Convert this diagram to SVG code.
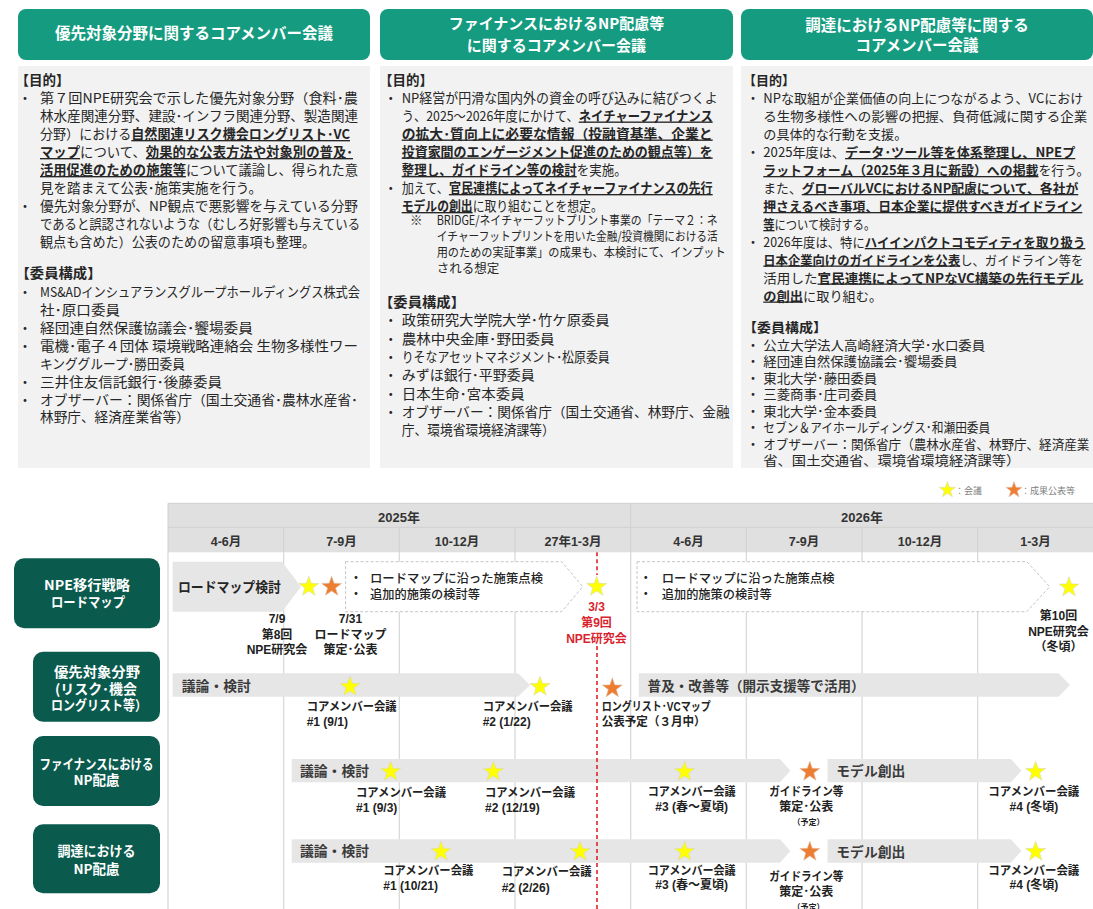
<svg xmlns="http://www.w3.org/2000/svg" width="1093" height="909" viewBox="0 0 1093 909">
<defs>
<style>
text{font-family:"Noto Sans CJK JP","Noto Sans",sans-serif;}
.b{font-size:13.5px;fill:#262626;}
.c3 .b{font-size:13px;}
.bu{font-weight:700;text-decoration:underline;}
.h{font-weight:700;}
.sm{font-size:12.5px;fill:#262626;}
.ht{fill:#fff;font-weight:700;font-size:15.5px;text-anchor:middle;}
.rl{fill:#fff;font-weight:700;font-size:13.5px;text-anchor:middle;}
.hd{fill:#e0e0e0;}
.qt{font-family:"Liberation Sans","Noto Sans CJK JP",sans-serif;font-weight:700;font-size:12.5px;fill:#333;text-anchor:middle;}
.gl{stroke:#d6d6d6;stroke-width:1.2;}
.bar{fill:#e6e6e6;}
.dbx{fill:#fff;stroke:#c4c4c4;stroke-width:1;stroke-dasharray:3 2;}
.bt{font-weight:700;font-size:13.5px;fill:#3a3a3a;}
.rt{font-weight:500;font-size:12.5px;fill:#222;}
.lb{font-family:"Liberation Sans","Noto Sans CJK JP",sans-serif;font-weight:700;font-size:12px;fill:#222;}
.lc{font-family:"Liberation Sans","Noto Sans CJK JP",sans-serif;font-weight:700;font-size:12px;fill:#222;text-anchor:middle;}
.red{fill:#d9232e;}
.ys{fill:#ffff00;stroke:#d8d8b8;stroke-width:0.6;}
.os{fill:#ed7d31;stroke:#e0c0a8;stroke-width:0.6;}
.lg{font-size:9px;fill:#7f7f7f;}
</style>
<path id="st" d="M0,-10.5 L2.47,-3.4 L9.99,-3.24 L3.99,1.3 L6.17,8.49 L0,4.2 L-6.17,8.49 L-3.99,1.3 L-9.99,-3.24 L-2.47,-3.4 Z"/>
<path id="sts" d="M0,-8.4 L1.98,-2.72 L7.99,-2.59 L3.19,1.04 L4.94,6.79 L0,3.36 L-4.94,6.79 L-3.19,1.04 L-7.99,-2.59 L-1.98,-2.72 Z"/>
</defs>
<rect width="1093" height="909" fill="#ffffff"/>

<!-- Panel 1 -->
<g id="panel-priority">
<rect x="18" y="9" width="352" height="51" rx="8" fill="#149b80"/>
<text class="ht" x="194" y="39">優先対象分野に関するコアメンバー会議</text>
<rect x="18" y="66" width="352" height="402" fill="#f2f2f2"/>
<text class="b h" x="15.5" y="85">【目的】</text>
<text class="b" x="25" y="103" text-anchor="middle">・</text>
<text class="b" x="40" y="103" textLength="318" lengthAdjust="spacingAndGlyphs">第７回NPE研究会で示した優先対象分野（食料･農</text>
<text class="b" x="40" y="121" textLength="318" lengthAdjust="spacingAndGlyphs">林水産関連分野、建設･インフラ関連分野、製造関連</text>
<text class="b" x="40" y="139" textLength="310" lengthAdjust="spacingAndGlyphs">分野）における<tspan class="bu">自然関連リスク機会ロングリスト･VC</tspan></text>
<text class="b" x="40" y="157" textLength="313" lengthAdjust="spacingAndGlyphs"><tspan class="bu">マップ</tspan>について、<tspan class="bu">効果的な公表方法や対象別の普及･</tspan></text>
<text class="b" x="40" y="175" textLength="318" lengthAdjust="spacingAndGlyphs"><tspan class="bu">活用促進のための施策等</tspan>について議論し、得られた意</text>
<text class="b" x="40" y="193" textLength="222" lengthAdjust="spacingAndGlyphs">見を踏まえて公表･施策実施を行う。</text>
<text class="b" x="25" y="211" text-anchor="middle">・</text>
<text class="b" x="40" y="211" textLength="318" lengthAdjust="spacingAndGlyphs">優先対象分野が、NP観点で悪影響を与えている分野</text>
<text class="b" x="40" y="229" textLength="320" lengthAdjust="spacingAndGlyphs">であると誤認されないような（むしろ好影響も与えている</text>
<text class="b" x="40" y="247" textLength="275" lengthAdjust="spacingAndGlyphs">観点も含めた）公表のための留意事項も整理。</text>
<text class="b h" x="15.5" y="278" textLength="86" lengthAdjust="spacingAndGlyphs">【委員構成】</text>
<text class="b" x="25" y="297" text-anchor="middle">・</text>
<text class="b" x="40" y="297" textLength="320" lengthAdjust="spacingAndGlyphs">MS&amp;ADインシュアランスグループホールディングス株式会</text>
<text class="b" x="40" y="315" textLength="80" lengthAdjust="spacingAndGlyphs">社･原口委員</text>
<text class="b" x="25" y="333" text-anchor="middle">・</text>
<text class="b" x="40" y="333" textLength="213" lengthAdjust="spacingAndGlyphs">経団連自然保護協議会･饗場委員</text>
<text class="b" x="25" y="351" text-anchor="middle">・</text>
<text class="b" x="40" y="351" textLength="318" lengthAdjust="spacingAndGlyphs">電機･電子４団体 環境戦略連絡会 生物多様性ワー</text>
<text class="b" x="40" y="368.5" textLength="145" lengthAdjust="spacingAndGlyphs">キンググループ･勝田委員</text>
<text class="b" x="25" y="386.5" text-anchor="middle">・</text>
<text class="b" x="40" y="386.5" textLength="182" lengthAdjust="spacingAndGlyphs">三井住友信託銀行･後藤委員</text>
<text class="b" x="25" y="404.5" text-anchor="middle">・</text>
<text class="b" x="40" y="404.5" textLength="318" lengthAdjust="spacingAndGlyphs">オブザーバー：関係省庁（国土交通省･農林水産省･</text>
<text class="b" x="40" y="422" textLength="150" lengthAdjust="spacingAndGlyphs">林野庁、経済産業省等）</text>
</g>

<!-- Panel 2 -->
<g id="panel-finance">
<rect x="380" y="9" width="353" height="51" rx="8" fill="#149b80"/>
<text class="ht" x="556.5" y="29" style="font-size:15px">ファイナンスにおけるNP配慮等</text>
<text class="ht" x="556.5" y="50.5" style="font-size:15px">に関するコアメンバー会議</text>
<rect x="380" y="66" width="353" height="402" fill="#f2f2f2"/>
<text class="b h" x="379" y="85">【目的】</text>
<text class="b" x="390.7" y="103" text-anchor="middle">・</text>
<text class="b" x="401.7" y="103" textLength="316" lengthAdjust="spacingAndGlyphs">NP経営が円滑な国内外の資金の呼び込みに結びつくよ</text>
<text class="b" x="401.7" y="120.5" textLength="311" lengthAdjust="spacingAndGlyphs">う、2025～2026年度にかけて、<tspan class="bu">ネイチャーファイナンス</tspan></text>
<text class="b" x="401.7" y="138.5" textLength="311" lengthAdjust="spacingAndGlyphs"><tspan class="bu">の拡大･質向上に必要な情報（投融資基準、企業と</tspan></text>
<text class="b" x="401.7" y="156.5" textLength="311" lengthAdjust="spacingAndGlyphs"><tspan class="bu">投資家間のエンゲージメント促進のための観点等）を</tspan></text>
<text class="b" x="401.7" y="175" textLength="225" lengthAdjust="spacingAndGlyphs"><tspan class="bu">整理し、ガイドライン等の検討</tspan>を実施。</text>
<text class="b" x="390.7" y="193" text-anchor="middle">・</text>
<text class="b" x="401.7" y="193" textLength="311" lengthAdjust="spacingAndGlyphs">加えて、<tspan class="bu">官民連携によってネイチャーファイナンスの先行</tspan></text>
<text class="b" x="401.7" y="211" textLength="201" lengthAdjust="spacingAndGlyphs"><tspan class="bu">モデルの創出</tspan>に取り組むことを想定。</text>
<text class="sm" x="410" y="225">※</text>
<text class="sm" x="436.7" y="225" textLength="281" lengthAdjust="spacingAndGlyphs">BRIDGE/ネイチャーフットプリント事業の「テーマ２：ネ</text>
<text class="sm" x="436.7" y="241" textLength="281" lengthAdjust="spacingAndGlyphs">イチャーフットプリントを用いた金融/投資機関における活</text>
<text class="sm" x="436.7" y="257" textLength="289" lengthAdjust="spacingAndGlyphs">用のための実証事業」の成果も、本検討にて、インプット</text>
<text class="sm" x="436.7" y="273">される想定</text>
<text class="b h" x="379" y="307" textLength="86" lengthAdjust="spacingAndGlyphs">【委員構成】</text>
<text class="b" x="390.7" y="325" text-anchor="middle">・</text>
<text class="b" x="401.7" y="325" textLength="208" lengthAdjust="spacingAndGlyphs">政策研究大学院大学･竹ケ原委員</text>
<text class="b" x="390.7" y="343.5" text-anchor="middle">・</text>
<text class="b" x="401.7" y="343.5" textLength="153" lengthAdjust="spacingAndGlyphs">農林中央金庫･野田委員</text>
<text class="b" x="390.7" y="362" text-anchor="middle">・</text>
<text class="b" x="401.7" y="362" textLength="208" lengthAdjust="spacingAndGlyphs">りそなアセットマネジメント･松原委員</text>
<text class="b" x="390.7" y="380" text-anchor="middle">・</text>
<text class="b" x="401.7" y="380" textLength="133" lengthAdjust="spacingAndGlyphs">みずほ銀行･平野委員</text>
<text class="b" x="390.7" y="398.5" text-anchor="middle">・</text>
<text class="b" x="401.7" y="398.5" textLength="123" lengthAdjust="spacingAndGlyphs">日本生命･宮本委員</text>
<text class="b" x="390.7" y="417" text-anchor="middle">・</text>
<text class="b" x="401.7" y="417" textLength="328" lengthAdjust="spacingAndGlyphs">オブザーバー：関係省庁（国土交通省、林野庁、金融</text>
<text class="b" x="401.7" y="434.5" textLength="153" lengthAdjust="spacingAndGlyphs">庁、環境省環境経済課等）</text>
</g>

<!-- Panel 3 -->
<g id="panel-procurement" class="c3">
<rect x="741" y="9" width="352" height="51" rx="8" fill="#149b80"/>
<text class="ht" x="917" y="30.5">調達におけるNP配慮等に関する</text>
<text class="ht" x="917" y="50.5">コアメンバー会議</text>
<rect x="741" y="66" width="352" height="402" fill="#f2f2f2"/>
<text class="b h" x="743" y="85">【目的】</text>
<text class="b" x="753" y="103" text-anchor="middle">・</text>
<text class="b" x="763.3" y="103" textLength="320" lengthAdjust="spacingAndGlyphs">NPな取組が企業価値の向上につながるよう、VCにおけ</text>
<text class="b" x="763.3" y="121" textLength="324" lengthAdjust="spacingAndGlyphs">る生物多様性への影響の把握、負荷低減に関する企業</text>
<text class="b" x="763.3" y="139" textLength="144" lengthAdjust="spacingAndGlyphs">の具体的な行動を支援。</text>
<text class="b" x="753" y="157" text-anchor="middle">・</text>
<text class="b" x="763.3" y="157" textLength="312" lengthAdjust="spacingAndGlyphs">2025年度は、<tspan class="bu">データ･ツール等を体系整理し、NPEプ</tspan></text>
<text class="b" x="763.3" y="175" textLength="326" lengthAdjust="spacingAndGlyphs"><tspan class="bu">ラットフォーム（2025年３月に新設）への掲載</tspan>を行う。</text>
<text class="b" x="763.3" y="193" textLength="315" lengthAdjust="spacingAndGlyphs">また、<tspan class="bu">グローバルVCにおけるNP配慮について、各社が</tspan></text>
<text class="b" x="763.3" y="211" textLength="319" lengthAdjust="spacingAndGlyphs"><tspan class="bu">押さえるべき事項、日本企業に提供すべきガイドライン</tspan></text>
<text class="b" x="763.3" y="229" textLength="112" lengthAdjust="spacingAndGlyphs"><tspan class="bu">等</tspan>について検討する。</text>
<text class="b" x="753" y="247" text-anchor="middle">・</text>
<text class="b" x="763.3" y="247" textLength="322" lengthAdjust="spacingAndGlyphs">2026年度は、特に<tspan class="bu">ハイインパクトコモディティを取り扱う</tspan></text>
<text class="b" x="763.3" y="264.5" textLength="320" lengthAdjust="spacingAndGlyphs"><tspan class="bu">日本企業向けのガイドラインを公表</tspan>し、ガイドライン等を</text>
<text class="b" x="763.3" y="282.5" textLength="320" lengthAdjust="spacingAndGlyphs">活用した<tspan class="bu">官民連携によってNPなVC構築の先行モデル</tspan></text>
<text class="b" x="763.3" y="300.5" textLength="119" lengthAdjust="spacingAndGlyphs"><tspan class="bu">の創出</tspan>に取り組む。</text>
<text class="b h" x="743" y="332" textLength="84" lengthAdjust="spacingAndGlyphs">【委員構成】</text>
<text class="b" x="753" y="349.5" text-anchor="middle">・</text>
<text class="b" x="763.3" y="349.5" textLength="222" lengthAdjust="spacingAndGlyphs">公立大学法人高崎経済大学･水口委員</text>
<text class="b" x="753" y="366" text-anchor="middle">・</text>
<text class="b" x="763.3" y="366" textLength="194" lengthAdjust="spacingAndGlyphs">経団連自然保護協議会･饗場委員</text>
<text class="b" x="753" y="382.5" text-anchor="middle">・</text>
<text class="b" x="763.3" y="382.5" textLength="114" lengthAdjust="spacingAndGlyphs">東北大学･藤田委員</text>
<text class="b" x="753" y="399" text-anchor="middle">・</text>
<text class="b" x="763.3" y="399" textLength="114" lengthAdjust="spacingAndGlyphs">三菱商事･庄司委員</text>
<text class="b" x="753" y="415.5" text-anchor="middle">・</text>
<text class="b" x="763.3" y="415.5" textLength="114" lengthAdjust="spacingAndGlyphs">東北大学･金本委員</text>
<text class="b" x="753" y="432" text-anchor="middle">・</text>
<text class="b" x="763.3" y="432" textLength="227" lengthAdjust="spacingAndGlyphs">セブン＆アイホールディングス･和瀬田委員</text>
<text class="b" x="753" y="448.5" text-anchor="middle">・</text>
<text class="b" x="763.3" y="448.5" textLength="326" lengthAdjust="spacingAndGlyphs">オブザーバー：関係省庁（農林水産省、林野庁、経済産業</text>
<text class="b" x="763.3" y="465" textLength="257" lengthAdjust="spacingAndGlyphs">省、国土交通省、環境省環境経済課等）</text>
</g>

<!-- Legend -->
<g id="legend">
<use href="#sts" x="947.4" y="490" class="ys"/>
<text class="lg" x="955" y="493.5">：会議</text>
<use href="#sts" x="1014" y="490" class="os"/>
<text class="lg" x="1021" y="493.5">：成果公表等</text>
</g>

<!-- Timeline header -->
<g id="timeline-header">
<rect class="hd" x="168" y="503.3" width="925" height="49"/>
<line x1="168" y1="503.3" x2="1093" y2="503.3" stroke="#d0d0d0"/>
<line x1="168" y1="527.3" x2="1093" y2="527.3" stroke="#d0d0d0"/>
<line x1="168" y1="503.3" x2="168" y2="552.3" stroke="#d0d0d0"/>
<line x1="630.7" y1="503.3" x2="630.7" y2="552.3" stroke="#d0d0d0"/>
<line x1="283.7" y1="527.3" x2="283.7" y2="552.3" stroke="#d0d0d0"/>
<line x1="399.3" y1="527.3" x2="399.3" y2="552.3" stroke="#d0d0d0"/>
<line x1="515" y1="527.3" x2="515" y2="552.3" stroke="#d0d0d0"/>
<line x1="746.3" y1="527.3" x2="746.3" y2="552.3" stroke="#d0d0d0"/>
<line x1="862" y1="527.3" x2="862" y2="552.3" stroke="#d0d0d0"/>
<line x1="977.7" y1="527.3" x2="977.7" y2="552.3" stroke="#d0d0d0"/>
<text class="qt" x="399" y="521.5" style="font-size:13px">2025年</text>
<text class="qt" x="862" y="521.5" style="font-size:13px">2026年</text>
<text class="qt" x="226" y="545.5">4-6月</text>
<text class="qt" x="341.5" y="545.5">7-9月</text>
<text class="qt" x="457" y="545.5">10-12月</text>
<text class="qt" x="573" y="545.5">27年1-3月</text>
<text class="qt" x="688.5" y="545.5">4-6月</text>
<text class="qt" x="804" y="545.5">7-9月</text>
<text class="qt" x="920" y="545.5">10-12月</text>
<text class="qt" x="1035.5" y="545.5">1-3月</text>
</g>

<!-- Grid -->
<g id="grid">
<line class="gl" x1="168" y1="552.3" x2="168" y2="909"/>
<line class="gl" x1="283.7" y1="552.3" x2="283.7" y2="909"/>
<line class="gl" x1="399.3" y1="552.3" x2="399.3" y2="909"/>
<line class="gl" x1="515" y1="552.3" x2="515" y2="909"/>
<line class="gl" x1="630.7" y1="552.3" x2="630.7" y2="909"/>
<line class="gl" x1="746.3" y1="552.3" x2="746.3" y2="909"/>
<line class="gl" x1="862" y1="552.3" x2="862" y2="909"/>
<line class="gl" x1="977.7" y1="552.3" x2="977.7" y2="909"/>
</g>

<!-- Row labels -->
<g id="row-roadmap">
<rect x="14" y="558.3" width="146" height="70" rx="10" fill="#0a5a4d"/>
<text class="rl" x="87" y="590" textLength="86" lengthAdjust="spacingAndGlyphs">NPE移行戦略</text>
<text class="rl" x="88" y="606.5" textLength="74" lengthAdjust="spacingAndGlyphs">ロードマップ</text>
</g>
<g id="row-priority">
<rect x="33" y="651.7" width="127" height="70" rx="10" fill="#0a5a4d"/>
<text class="rl" x="97" y="677" textLength="86" lengthAdjust="spacingAndGlyphs">優先対象分野</text>
<text class="rl" x="96" y="693.5" textLength="82" lengthAdjust="spacingAndGlyphs">(リスク･機会</text>
<text class="rl" x="99" y="710" textLength="96" lengthAdjust="spacingAndGlyphs">ロングリスト等）</text>
</g>
<g id="row-finance">
<rect x="33" y="736" width="127" height="70" rx="10" fill="#0a5a4d"/>
<text class="rl" x="96.5" y="768.5" textLength="114" lengthAdjust="spacingAndGlyphs">ファイナンスにおける</text>
<text class="rl" x="96.5" y="785">NP配慮</text>
</g>
<g id="row-procurement">
<rect x="33" y="824.3" width="127" height="69" rx="10" fill="#0a5a4d"/>
<text class="rl" x="96.5" y="856" textLength="78" lengthAdjust="spacingAndGlyphs">調達における</text>
<text class="rl" x="96.5" y="873.5">NP配慮</text>
</g>

<!-- Bars (connectors) -->
<g id="connectors">
<polygon class="bar" points="172.6,561.7 282,561.7 301,586.7 282,611.7 172.6,611.7"/>
<polygon class="dbx" points="345.6,561.7 561.7,561.7 582.7,586.7 561.7,611.7 345.6,611.7"/>
<polygon class="dbx" points="637,561.7 1026.8,561.7 1049.7,586.7 1026.8,611.7 637,611.7"/>
<polygon class="bar" points="172.6,673.3 518,673.3 530,685 518,696.7 172.6,696.7"/>
<polygon class="bar" points="638.8,673.3 1058.5,673.3 1070,685 1058.5,696.7 638.8,696.7"/>
<polygon class="bar" points="291.7,759 779.9,759 790.4,770.7 779.9,782.3 291.7,782.3"/>
<polygon class="bar" points="827.5,759 1010.9,759 1021.5,770.7 1010.9,782.3 827.5,782.3"/>
<polygon class="bar" points="291.7,839.3 779.9,839.3 790.4,851 779.9,862.7 291.7,862.7"/>
<polygon class="bar" points="827.5,839.3 1010.9,839.3 1021.5,851 1010.9,862.7 827.5,862.7"/>
<line x1="597" y1="552.3" x2="597" y2="575" stroke="#e0161b" stroke-width="1.5" stroke-dasharray="4 3"/>
<line x1="597" y1="646" x2="597" y2="909" stroke="#e0161b" stroke-width="1.5" stroke-dasharray="4 3"/>
</g>

<!-- Row 1 content -->
<g id="roadmap-items">
<text class="b h" x="178" y="592" textLength="103" lengthAdjust="spacingAndGlyphs" style="fill:#262626;font-size:14px">ロードマップ検討</text>
<use href="#st" x="308.8" y="586.7" class="ys"/>
<use href="#st" x="331.6" y="586.7" class="os"/>
<text class="rt" x="356" y="583" text-anchor="middle">・</text>
<text class="rt" x="370" y="583" textLength="173" lengthAdjust="spacingAndGlyphs">ロードマップに沿った施策点検</text>
<text class="rt" x="356" y="598.5" text-anchor="middle">・</text>
<text class="rt" x="370" y="598.5" textLength="110" lengthAdjust="spacingAndGlyphs">追加的施策の検討等</text>
<use href="#st" x="596.7" y="586.7" class="ys"/>
<text class="rt" x="645.8" y="583" text-anchor="middle">・</text>
<text class="rt" x="661.7" y="583" textLength="173" lengthAdjust="spacingAndGlyphs">ロードマップに沿った施策点検</text>
<text class="rt" x="645.8" y="598.5" text-anchor="middle">・</text>
<text class="rt" x="661.7" y="598.5" textLength="110" lengthAdjust="spacingAndGlyphs">追加的施策の検討等</text>
<use href="#st" x="1069" y="587.3" class="ys"/>
<text class="lc" x="277" y="623">7/9</text>
<text class="lc" x="277" y="638.5">第8回</text>
<text class="lc" x="277" y="654">NPE研究会</text>
<text class="lc" x="350.5" y="623">7/31</text>
<text class="lc" x="350.5" y="638.5">ロードマップ</text>
<text class="lc" x="350.5" y="654">策定･公表</text>
<text class="lc red" x="596.5" y="611">3/3</text>
<text class="lc red" x="596.5" y="626.5">第9回</text>
<text class="lc red" x="596.5" y="642.5">NPE研究会</text>
<text class="lc" x="1058.5" y="620">第10回</text>
<text class="lc" x="1058.5" y="636">NPE研究会</text>
<text class="lc" x="1058.5" y="651">（冬頃）</text>
</g>

<!-- Row 2 content -->
<g id="priority-items">
<text class="bt" x="181.8" y="691" textLength="69" lengthAdjust="spacingAndGlyphs">議論・検討</text>
<use href="#st" x="350" y="686.7" class="ys"/>
<text class="lb" x="306.7" y="711" textLength="90" lengthAdjust="spacingAndGlyphs">コアメンバー会議</text>
<text class="lb" x="306.7" y="726">#1 (9/1)</text>
<use href="#st" x="540" y="686.7" class="ys"/>
<text class="lb" x="482.7" y="711" textLength="90" lengthAdjust="spacingAndGlyphs">コアメンバー会議</text>
<text class="lb" x="482.7" y="726">#2 (1/22)</text>
<use href="#st" x="612.3" y="688.3" class="os"/>
<text class="lb" x="601.7" y="711" textLength="109" lengthAdjust="spacingAndGlyphs">ロングリスト･VCマップ</text>
<text class="lb" x="601.7" y="726" textLength="104" lengthAdjust="spacingAndGlyphs">公表予定（３月中）</text>
<text class="bt" x="647.6" y="691" textLength="217" lengthAdjust="spacingAndGlyphs">普及・改善等（開示支援等で活用）</text>
</g>

<!-- Row 3 content -->
<g id="finance-items">
<text class="bt" x="300" y="775.5" textLength="69" lengthAdjust="spacingAndGlyphs">議論・検討</text>
<use href="#st" x="390.7" y="771.7" class="ys"/>
<use href="#st" x="493.3" y="771.7" class="ys"/>
<use href="#st" x="684.6" y="771.7" class="ys"/>
<text class="lb" x="356" y="797" textLength="90" lengthAdjust="spacingAndGlyphs">コアメンバー会議</text>
<text class="lb" x="356" y="812">#1 (9/3)</text>
<text class="lb" x="485" y="797" textLength="90" lengthAdjust="spacingAndGlyphs">コアメンバー会議</text>
<text class="lb" x="485" y="812">#2 (12/19)</text>
<text class="lc" x="691.7" y="796" textLength="88" lengthAdjust="spacingAndGlyphs">コアメンバー会議</text>
<text class="lc" x="691.7" y="810.5">#3 (春～夏頃)</text>
<use href="#st" x="809.8" y="771.7" class="os"/>
<text class="lc" x="806.3" y="796" textLength="74" lengthAdjust="spacingAndGlyphs">ガイドライン等</text>
<text class="lc" x="806.3" y="811">策定･公表</text>
<text class="lc" x="808.5" y="825" style="font-size:8px">（予定）</text>
<text class="bt" x="836.3" y="776" textLength="69" lengthAdjust="spacingAndGlyphs">モデル創出</text>
<use href="#st" x="1035.6" y="771.7" class="ys"/>
<text class="lc" x="1033.8" y="796" textLength="91" lengthAdjust="spacingAndGlyphs">コアメンバー会議</text>
<text class="lc" x="1033.8" y="811">#4 (冬頃)</text>
</g>

<!-- Row 4 content -->
<g id="procurement-items">
<text class="bt" x="300" y="856" textLength="69" lengthAdjust="spacingAndGlyphs">議論・検討</text>
<use href="#st" x="441" y="851.7" class="ys"/>
<use href="#st" x="580" y="851.7" class="ys"/>
<use href="#st" x="684.6" y="851.7" class="ys"/>
<text class="lb" x="383.3" y="874.5" textLength="90" lengthAdjust="spacingAndGlyphs">コアメンバー会議</text>
<text class="lb" x="383.3" y="889.5">#1 (10/21)</text>
<text class="lb" x="501.7" y="875.5" textLength="90" lengthAdjust="spacingAndGlyphs">コアメンバー会議</text>
<text class="lb" x="501.7" y="892">#2 (2/26)</text>
<text class="lc" x="691.7" y="874.5" textLength="88" lengthAdjust="spacingAndGlyphs">コアメンバー会議</text>
<text class="lc" x="691.7" y="888.5">#3 (春～夏頃)</text>
<use href="#st" x="809.8" y="851.7" class="os"/>
<text class="lc" x="806.3" y="881" textLength="74" lengthAdjust="spacingAndGlyphs">ガイドライン等</text>
<text class="lc" x="806.3" y="896">策定･公表</text>
<text class="lc" x="808.5" y="910" style="font-size:8px">（予定）</text>
<text class="bt" x="836.3" y="856.5" textLength="69" lengthAdjust="spacingAndGlyphs">モデル創出</text>
<use href="#st" x="1035.6" y="851.7" class="ys"/>
<text class="lc" x="1033.8" y="874.5" textLength="91" lengthAdjust="spacingAndGlyphs">コアメンバー会議</text>
<text class="lc" x="1033.8" y="888.5">#4 (冬頃)</text>
</g>
</svg>
